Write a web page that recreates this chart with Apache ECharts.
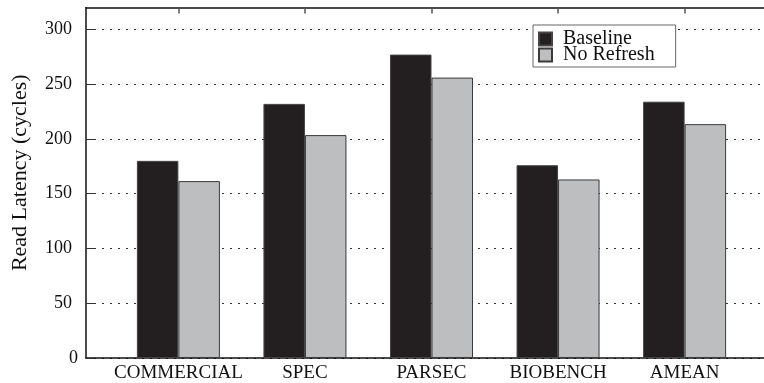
<!DOCTYPE html>
<html>
<head>
<meta charset="utf-8">
<script src="https://cdn.jsdelivr.net/npm/echarts@6/dist/echarts.min.js"></script>
<style>
  html, body { margin: 0; padding: 0; background: #fff; }
  #chart { width: 764px; height: 383px; }
</style>
</head>
<body>
<div id="chart"></div>
<script>
// Benchmark groups along the x axis
const categories = ['COMMERCIAL', 'SPEC', 'PARSEC', 'BIOBENCH', 'AMEAN'];
// Average read latency in cycles
const baseline = [180, 232, 277, 176, 234];
const noRefresh = [161.5, 203.5, 256, 163, 213.5];
// Y-axis tick labels
const yTicks = [0, 50, 100, 150, 200, 250, 300];

const FONT = 'Liberation Serif';
const positions = categories.map((_, i) => i);

const chart = echarts.init(document.getElementById('chart'), null, { renderer: 'canvas' });

const xRange = { min: -0.73, max: 4.73 };

chart.setOption({
  animation: false,
  backgroundColor: '#fff',
  textStyle: { fontFamily: FONT },
  grid: { left: 86, right: -13, top: 7.5, bottom: 25, containLabel: false, outerBoundsMode: 'none' },
  legend: {
    data: ['Baseline', 'No Refresh'],
    orient: 'vertical',
    left: 533,
    top: 25,
    backgroundColor: '#fff',
    borderColor: '#666',
    borderWidth: 1,
    borderRadius: 0,
    padding: [4, 21, 2, 5],
    itemWidth: 13,
    itemHeight: 13,
    itemGap: -4,
    icon: 'rect',
    textStyle: { fontFamily: FONT, fontSize: 20, color: '#111', lineHeight: 16, padding: [0, 0, 0, 6] }
  },
  xAxis: [
    {
      type: 'value',
      position: 'bottom',
      min: xRange.min,
      max: xRange.max,
      splitLine: { show: false },
      axisLine: { show: true, onZero: false, lineStyle: { color: '#111', width: 1.5 } },
      axisTick: { show: false },
      axisLabel: {
        customValues: positions,
        formatter: (v) => categories[Math.round(v)] || '',
        fontFamily: FONT,
        fontSize: 19,
        color: '#111',
        margin: 6
      }
    },
    {
      type: 'value',
      position: 'top',
      min: xRange.min,
      max: xRange.max,
      splitLine: { show: false },
      axisLine: { show: true, onZero: false, lineStyle: { color: '#111', width: 1.5 } },
      axisTick: { show: true, inside: true, length: 6, customValues: positions, lineStyle: { color: '#555', width: 1.5 } },
      axisLabel: { show: false }
    }
  ],
  yAxis: {
    type: 'value',
    min: 0,
    max: 320,
    interval: 50,
    name: 'Read Latency (cycles)',
    nameLocation: 'middle',
    nameGap: 55,
    nameTextStyle: { fontFamily: FONT, fontSize: 22, color: '#111', padding: [0, 0, 0, 20] },
    axisLine: { show: true, onZero: false, lineStyle: { color: '#111', width: 1.5 } },
    axisTick: { show: true, inside: true, length: 8, customValues: yTicks, lineStyle: { color: '#333' } },
    axisLabel: {
      customValues: yTicks,
      // the zero label sits closer to the axis than the others
      formatter: (v) => (v === 0 ? '{z|0}' : '{n|' + v + '}'),
      rich: {
        z: { fontFamily: FONT, fontSize: 18, color: '#111' },
        n: { fontFamily: FONT, fontSize: 18, color: '#111', padding: [0, 6, 0, 0] }
      },
      fontFamily: FONT,
      fontSize: 18,
      color: '#111',
      margin: 8
    },
    splitLine: { show: true, lineStyle: { color: '#333', width: 1, type: [2, 6] } }
  },
  series: [
    {
      name: 'Baseline',
      type: 'bar',
      barWidth: 41.5,
      barGap: '0%',
      data: baseline.map((v, i) => [positions[i], v]),
      itemStyle: { color: '#231f20', borderColor: '#444', borderWidth: 1 }
    },
    {
      name: 'No Refresh',
      type: 'bar',
      barWidth: 41.5,
      barGap: '0%',
      data: noRefresh.map((v, i) => [positions[i], v]),
      itemStyle: { color: '#bcbec0', borderColor: '#3a3a3a', borderWidth: 1 }
    }
  ]
});
</script>
</body>
</html>
